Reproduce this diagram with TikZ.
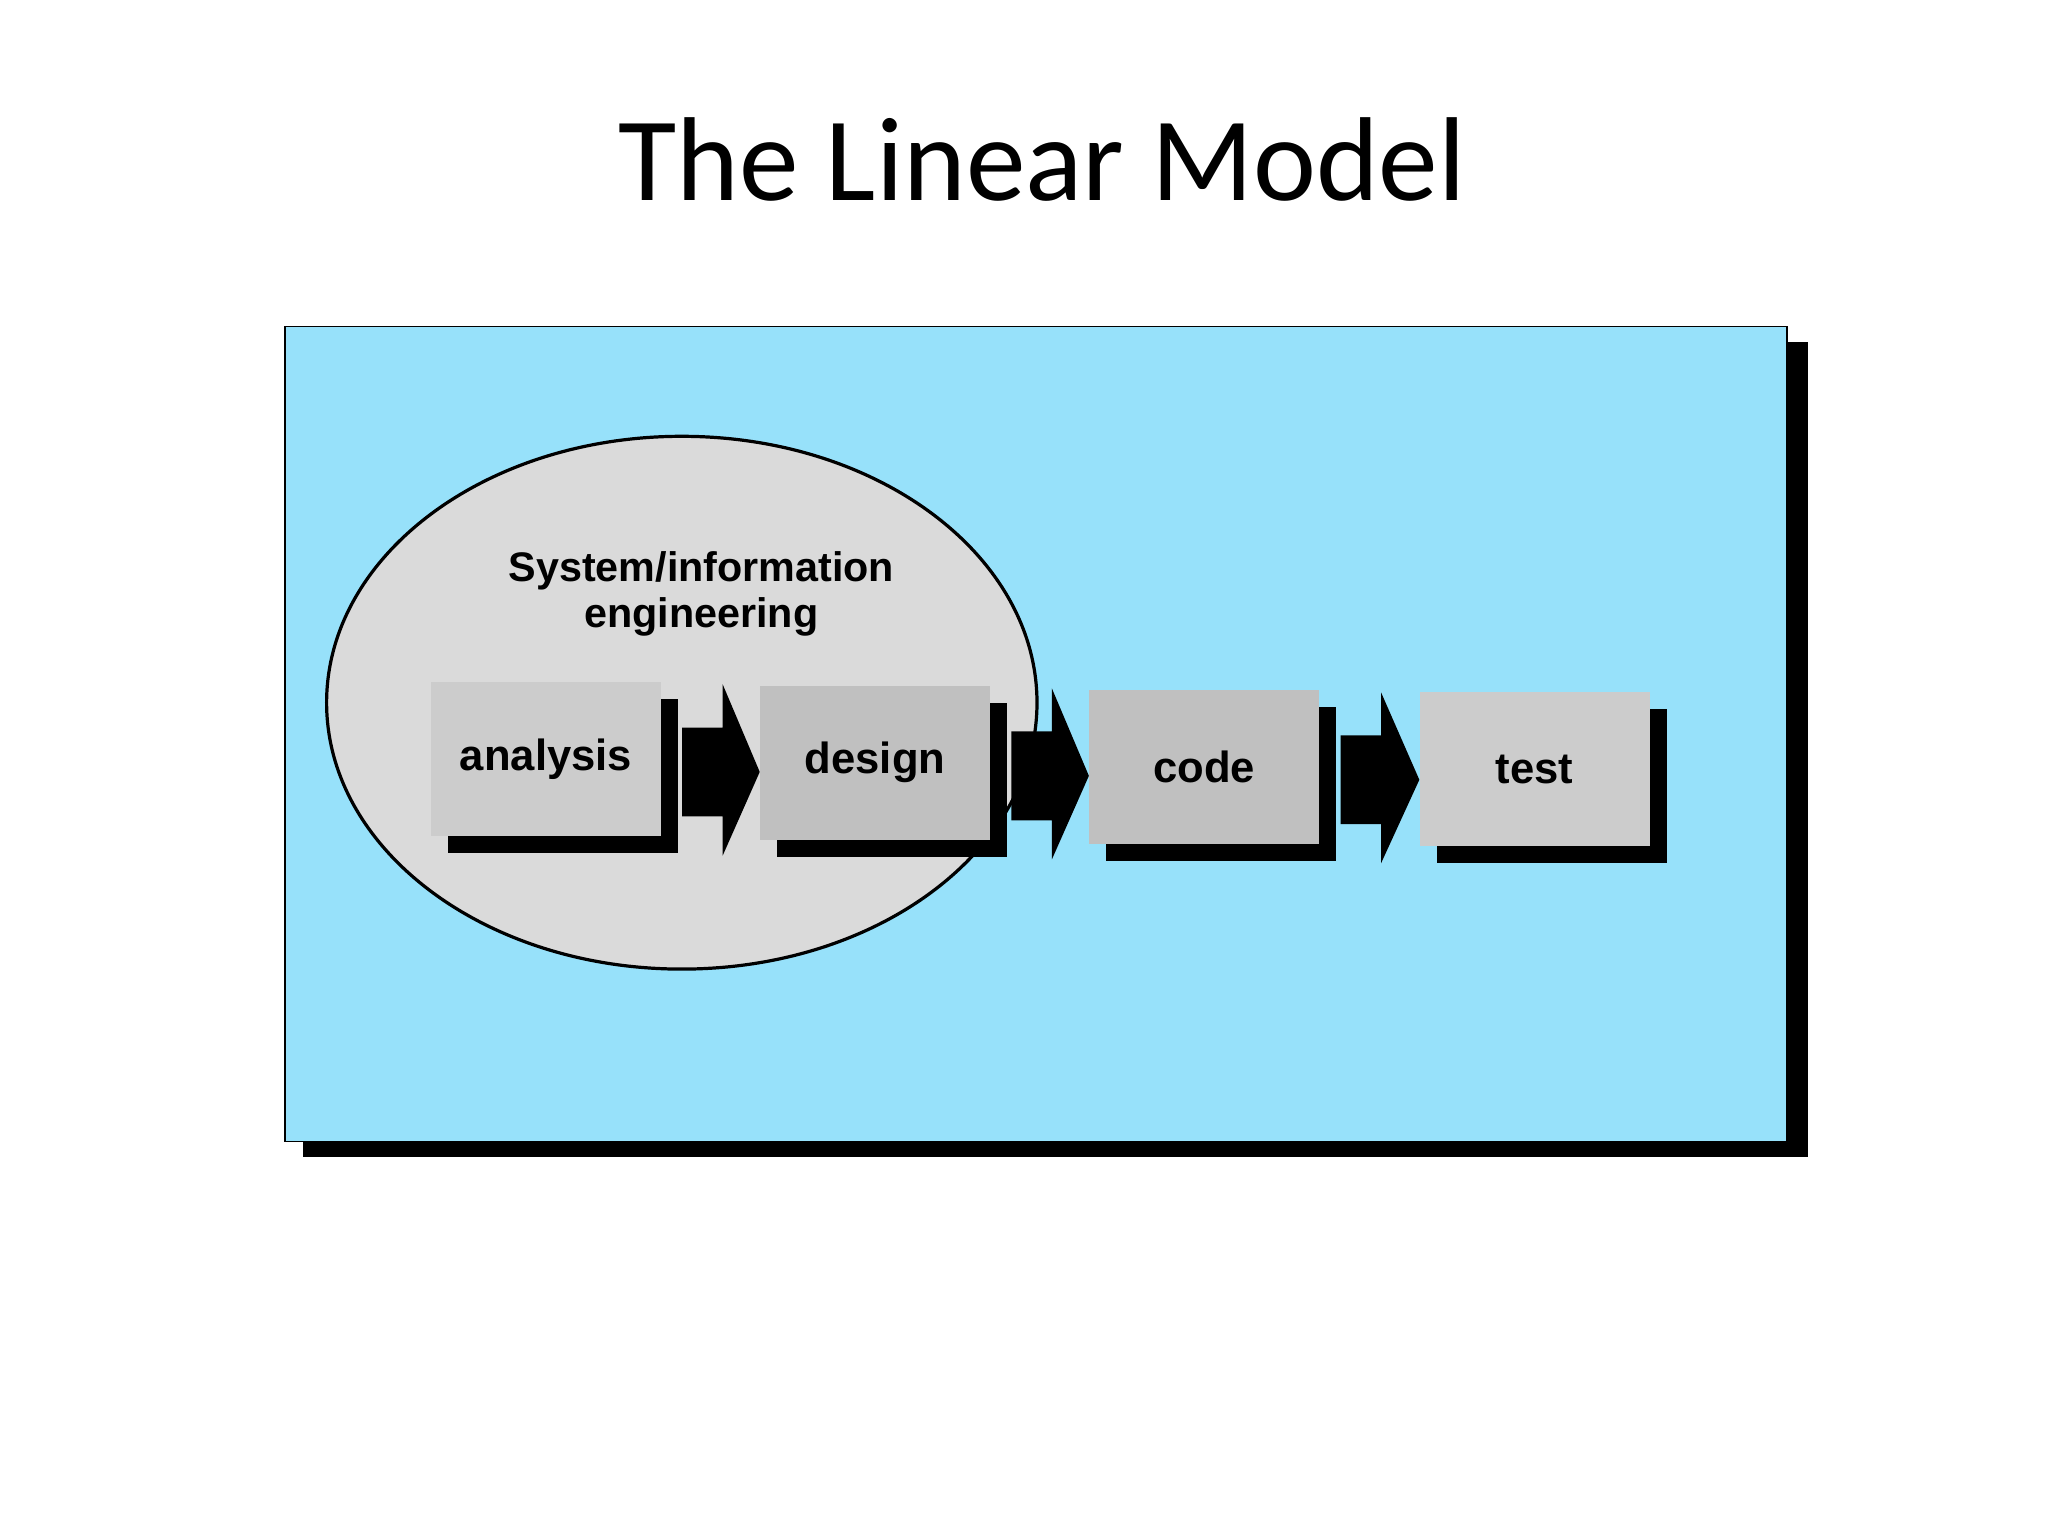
\documentclass[tikz,border=0pt]{standalone}
\usepackage{fontspec}
\setmainfont{Liberation Sans}
\newfontfamily\titlefont{Carlito}
\usetikzlibrary{calc,shapes.geometric}
\definecolor{sky}{HTML}{97E1FA}
\definecolor{boxa}{HTML}{CCCCCC}
\definecolor{boxb}{HTML}{C0C0C0}
\definecolor{ell}{HTML}{DADADA}
\begin{document}
\begin{tikzpicture}[x=0.02cm,y=-0.02cm,
  stage/.style={draw=none,minimum width=3.52cm,minimum height=2.36cm,font=\bfseries\fontsize{19}{22}\selectfont},
  shadowbox/.style={fill=black},
  blockarrow/.style={fill=black}]
\useasboundingbox (0,0) rectangle (1568,1176);
\node[font=\titlefont\fontsize{52}{60}\selectfont] (title) at (798,122) {The Linear Model};
\fill[black] (232,262) rectangle (1384,886);
\draw[fill=sky,line width=0.8pt] (218,250) rectangle (1368,874);
\node[draw,line width=1.4pt,fill=ell,ellipse,minimum width=10.88cm,minimum height=8.16cm] (sys) at (522,538) {};
\node[align=center,font=\bfseries\fontsize{18}{20}\selectfont] (syslbl) at (537,455) {System/information\\engineering};
\foreach \n/\x/\y/\c/\t in {an/418/581/boxa/analysis, de/670/584/boxb/design, co/922/587/boxb/code, te/1175/589/boxa/test}{
  \fill[shadowbox] (\x-75,\y-46) rectangle (\x+101,\y+72);
  \node[stage,fill=\c] (\n) at (\x,\y) {\t};
}
\foreach \a/\b in {an/de, de/co, co/te}{
  \fill[blockarrow] ($(\a.east)+(16,-24)$) -- ($(\a.east)+(47,-24)$) -- ($(\a.east)+(47,-57)$)
   -- ($(\a.east-|\b.west)+(0,10)$) -- ($(\a.east)+(47,74)$) -- ($(\a.east)+(47,44)$)
   -- ($(\a.east)+(16,44)$) -- cycle;
}
\end{tikzpicture}
\end{document}
